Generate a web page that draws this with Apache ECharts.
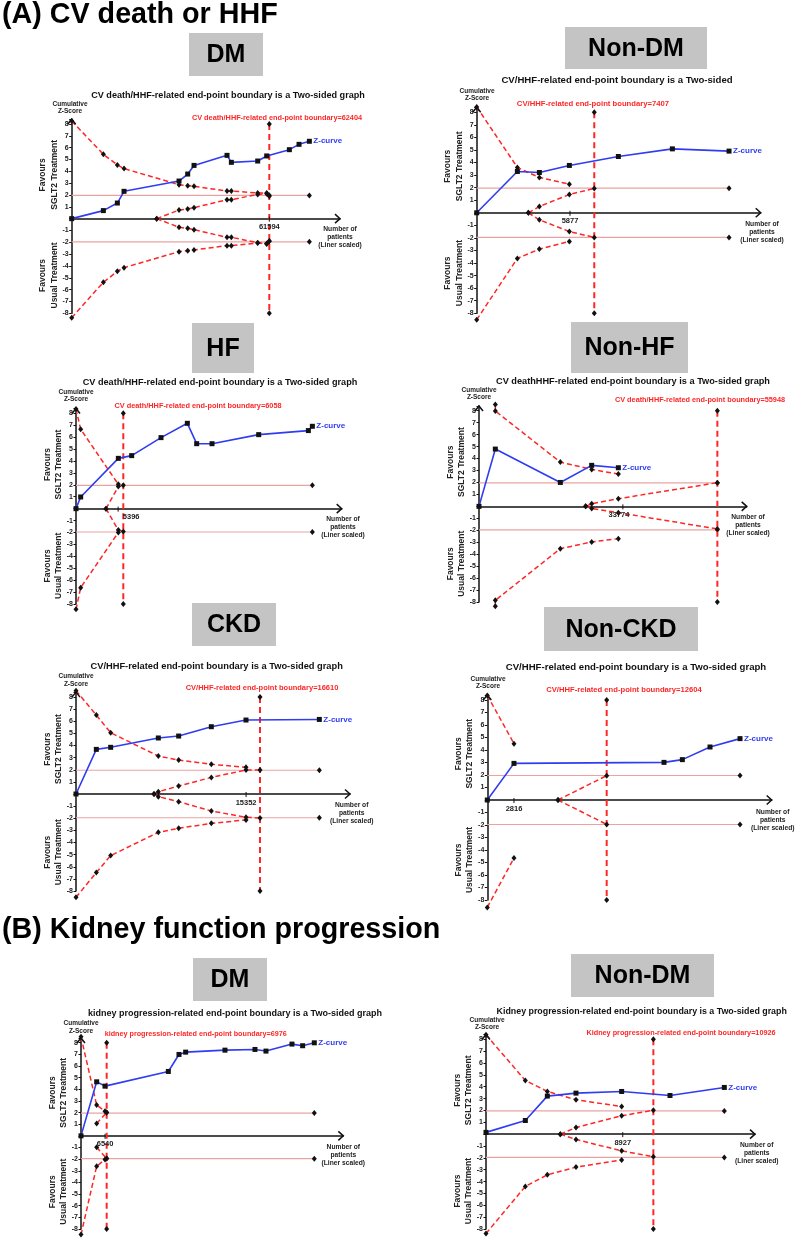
<!DOCTYPE html>
<html>
<head>
<meta charset="utf-8">
<title>Trial sequential analysis</title>
<script src="https://cdn.jsdelivr.net/npm/echarts@6/dist/echarts.min.js"></script>
<style>
html, body { margin: 0; padding: 0; background: #fff; }
#main { width: 797px; height: 1239px; }
</style>
</head>
<body>
<div id="main"></div>
<script>
// values: x = number of patients, y = cumulative Z-score

// (A) CV death or HHF - DM
var a1Z = [[0, 0], [9871, 0.68], [14234, 1.32], [16312, 2.31], [33456, 3.18], [36157, 3.77], [38131, 4.5], [48417, 5.35], [49768, 4.76], [57976, 4.87], [60782, 5.3], [67847, 5.83], [70860, 6.28], [74081, 6.54]];
var a1Up = [[0, 8.25], [9871, 5.44], [14234, 4.54], [16312, 4.23], [33456, 2.87], [36157, 2.79], [38131, 2.73], [48417, 2.34], [49768, 2.34], [57976, 2.17], [60782, 2.17], [61594, 1.9]];
var a1Low = [[0, -8.37], [9871, -5.38], [14234, -4.45], [16312, -4.14], [33456, -2.79], [36157, -2.71], [38131, -2.65], [48417, -2.28], [49768, -2.28], [57976, -2.06], [60782, -2.1], [61594, -1.89]];
var a1InUp = [[26495, 0], [33456, 0.73], [36157, 0.82], [38131, 0.93], [48417, 1.6], [49768, 1.6], [57976, 2.05], [60782, 2.1], [61594, 1.97]];
var a1InLow = [[26495, 0], [33456, -0.73], [36157, -0.82], [38131, -0.93], [48417, -1.58], [49768, -1.58], [57976, -2.03], [60782, -2.14], [61594, -1.9]];
var a1Ris = 61594, a1Tick = 61594, a1HEnd = 74081;

// (A) Non-DM
var a2Z = [[0, 0], [2562, 3.29], [3948, 3.21], [5838, 3.77], [8925, 4.48], [12327, 5.09], [15897, 4.91]];
var a2Up = [[0, 8.43], [2562, 3.61], [3948, 2.81], [5838, 2.28]];
var a2Low = [[0, -8.51], [2562, -3.63], [3948, -2.89], [5838, -2.28]];
var a2InUp = [[3255, 0], [3948, 0.5], [5838, 1.46], [7407, 1.94]];
var a2InLow = [[3255, 0], [3948, -0.56], [5838, -1.49], [7407, -1.96]];
var a2Ris = 7407, a2Tick = 5877, a2HEnd = 15897;

// (A) HF
var a3Z = [[0, 0], [598, 0.98], [5423, 4.22], [7131, 4.45], [10889, 5.96], [14262, 7.16], [15457, 5.45], [17422, 5.45], [23400, 6.21], [29762, 6.55], [30274, 6.91]];
var a3Up = [[0, 8.36], [598, 6.66], [5423, 2.04]];
var a3Low = [[0, -8.45], [598, -6.63], [5423, -2.0]];
var a3InUp = [[3843, 0], [5423, 1.85], [6058, 1.96]];
var a3InLow = [[3843, 0], [5423, -1.8], [6058, -1.92]];
var a3Ris = 6058, a3Tick = 5396, a3HEnd = 30274;

// (A) Non-HF
var a4Z = [[0, 0], [3834, 4.79], [19093, 2.0], [26449, 3.43], [32709, 3.23]];
var a4Up = [[3834, 8.52], [3834, 7.97], [19093, 3.7], [26449, 3.09], [32709, 2.7]];
var a4Low = [[3834, -8.36], [3834, -7.86], [19093, -3.54], [26449, -2.98], [32709, -2.7]];
var a4InUp = [[25040, 0], [26449, 0.22], [32709, 0.64], [55948, 1.98]];
var a4InLow = [[25040, 0], [26449, -0.17], [32709, -0.53], [55948, -1.89]];
var a4Ris = 55948, a4Tick = 33774, a4HEnd = 55948;

// (A) CKD
var a5Z = [[0, 0], [1835, 3.68], [3129, 3.85], [7432, 4.62], [9268, 4.78], [12216, 5.55], [15346, 6.1], [21966, 6.15]];
var a5Up = [[0, 8.52], [1835, 6.51], [3129, 5.05], [7432, 3.13], [9268, 2.8], [12216, 2.45], [15346, 2.2]];
var a5Low = [[0, -8.52], [1835, -6.48], [3129, -5.08], [7432, -3.16], [9268, -2.83], [12216, -2.42], [15346, -2.14]];
var a5InUp = [[7041, 0], [7432, 0.19], [9268, 0.66], [12216, 1.37], [15346, 1.98], [16610, 1.98]];
var a5InLow = [[7041, 0], [7432, -0.22], [9268, -0.63], [12216, -1.4], [15346, -1.92], [16610, -1.98]];
var a5Ris = 16610, a5Tick = 15352, a5HEnd = 21966;

// (A) Non-CKD
var a6Z = [[0, 0], [2816, 2.93], [18656, 3.01], [20592, 3.23], [23514, 4.24], [26682, 4.91]];
var a6Up = [[0, 8.37], [2816, 4.51]];
var a6Low = [[0, -8.59], [2816, -4.64]];
var a6InUp = [[7462, 0], [12604, 1.95]];
var a6InLow = [[7462, 0], [12604, -1.95]];
var a6Ris = 12604, a6Tick = 2816, a6HEnd = 26682;

// (B) Kidney function progression - DM
var b1Z = [[0, 0], [4258, 4.64], [6523, 4.27], [23737, 5.53], [26636, 6.99], [28448, 7.19], [39139, 7.36], [47293, 7.42], [50283, 7.28], [57350, 7.88], [60249, 7.74], [63420, 7.99]];
var b1Up = [[0, 8.51], [4258, 2.64], [6523, 2.12], [6976, 2.0]];
var b1Low = [[0, -8.48], [4258, -2.61], [6523, -2.03], [6976, -1.95]];
var b1InUp = [[4258, 1.06], [6976, 2.0]];
var b1InLow = [[4258, -0.97], [6976, -1.95]];
var b1Ris = 6976, b1Tick = 6540, b1HEnd = 63420;

// (B) Non-DM
var b2Z = [[0, 0.15], [2568, 1.15], [4004, 3.21], [5875, 3.46], [8856, 3.6], [12012, 3.26], [15558, 3.94]];
var b2Up = [[0, 8.38], [2568, 4.53], [4004, 3.6], [5875, 2.9], [8856, 2.33]];
var b2Low = [[0, -8.38], [2568, -4.41], [4004, -3.43], [5875, -2.78], [8856, -2.17]];
var b2InUp = [[4852, 0], [5875, 0.56], [8856, 1.55], [10926, 2.02]];
var b2InLow = [[4852, 0], [5875, -0.45], [8856, -1.41], [10926, -1.91]];
var b2Ris = 10926, b2Tick = 8927, b2HEnd = 15558;

// layout of each small panel (page pixels), ts / rs = font size of title / boundary label
var panels = [
    { z: a1Z, up: a1Up, low: a1Low, inUp: a1InUp, inLow: a1InLow, ris: a1Ris, tick: a1Tick, hEnd: a1HEnd,
      name: 'DM', box: [189, 33, 74, 43],
      title: 'CV death/HHF-related end-point boundary is a Two-sided graph', titleAt: [228, 95], ts: 9.1,
      risLabel: 'CV death/HHF-related end-point boundary=62404', risAt: [277, 118], rs: 7.3,
      ax: 71.7, y8: 124, y8n: 313.3, arrowX: 340, xMax: 83630, cumAt: [70, 104], nopAt: [340, 229] },
    { z: a2Z, up: a2Up, low: a2Low, inUp: a2InUp, inLow: a2InLow, ris: a2Ris, tick: a2Tick, hEnd: a2HEnd,
      name: 'Non-DM', box: [565, 27, 142, 42],
      title: 'CV/HHF-related end-point boundary is a Two-sided', titleAt: [617, 80], ts: 9.6,
      risLabel: 'CV/HHF-related end-point boundary=7407', risAt: [593, 104], rs: 7.7,
      ax: 476.7, y8: 112.3, y8n: 313.3, arrowX: 760.7, xMax: 17892, cumAt: [477, 91], nopAt: [762, 224] },
    { z: a3Z, up: a3Up, low: a3Low, inUp: a3InUp, inLow: a3InLow, ris: a3Ris, tick: a3Tick, hEnd: a3HEnd,
      name: 'HF', box: [192, 323, 62, 50], tickDx: 13,
      title: 'CV death/HHF-related end-point boundary is a Two-sided graph', titleAt: [220, 382], ts: 9.15,
      risLabel: 'CV death/HHF-related end-point boundary=6058', risAt: [198, 405.7], rs: 7.35,
      ax: 76, y8: 413.3, y8n: 604, arrowX: 341.7, xMax: 34032, cumAt: [76, 392], nopAt: [343, 519] },
    { z: a4Z, up: a4Up, low: a4Low, inUp: a4InUp, inLow: a4InLow, ris: a4Ris, tick: a4Tick, hEnd: a4HEnd,
      name: 'Non-HF', box: [571, 322, 117, 51], tickDx: -4,
      title: 'CV deathHHF-related end-point boundary is a Two-sided graph', titleAt: [633, 381.7], ts: 9.2,
      risLabel: 'CV death/HHF-related end-point boundary=55948', risAt: [700, 400], rs: 7.3,
      ax: 479, y8: 410.7, y8n: 602, arrowX: 746.7, xMax: 62835, cumAt: [479, 390], nopAt: [748, 516.7] },
    { z: a5Z, up: a5Up, low: a5Low, inUp: a5InUp, inLow: a5InLow, ris: a5Ris, tick: a5Tick, hEnd: a5HEnd,
      name: 'CKD', box: [192, 603, 84, 43],
      title: 'CV/HHF-related end-point boundary is a Two-sided graph', titleAt: [216.7, 666.7], ts: 9.3,
      risLabel: 'CV/HHF-related end-point boundary=16610', risAt: [262, 688.3], rs: 7.5,
      ax: 76, y8: 697, y8n: 891, arrowX: 350, xMax: 24734, cumAt: [76, 676.7], nopAt: [351.7, 805] },
    { z: a6Z, up: a6Up, low: a6Low, inUp: a6InUp, inLow: a6InLow, ris: a6Ris, tick: a6Tick, hEnd: a6HEnd,
      name: 'Non-CKD', box: [544, 607, 154, 44],
      title: 'CV/HHF-related end-point boundary is a Two-sided graph', titleAt: [636, 667.3], ts: 9.6,
      risLabel: 'CV/HHF-related end-point boundary=12604', risAt: [624, 690], rs: 7.65,
      ax: 487.3, y8: 700, y8n: 900, arrowX: 771.7, xMax: 30026, cumAt: [488, 679], nopAt: [772.7, 811.7] },
    { z: b1Z, up: b1Up, low: b1Low, inUp: b1InUp, inLow: b1InLow, ris: b1Ris, tick: b1Tick, hEnd: b1HEnd,
      name: 'DM', box: [193, 958, 74, 43],
      title: 'kidney progression-related end-point boundary is a Two-sided graph', titleAt: [235, 1014], ts: 9.0,
      risLabel: 'kidney progression-related end-point boundary=6976', risAt: [195.7, 1034.3], rs: 7.2,
      ax: 81, y8: 1042.7, y8n: 1229, arrowX: 343.3, xMax: 71302, cumAt: [81, 1023.7], nopAt: [343.3, 1146.7] },
    { z: b2Z, up: b2Up, low: b2Low, inUp: b2InUp, inLow: b2InLow, ris: b2Ris, tick: b2Tick, hEnd: b2HEnd,
      name: 'Non-DM', box: [571, 954, 143, 43],
      title: 'Kidney progression-related end-point boundary is a Two-sided graph', titleAt: [641.7, 1011.7], ts: 8.85,
      risLabel: 'Kidney progression-related end-point boundary=10926', risAt: [681, 1032.7], rs: 7.27,
      ax: 486, y8: 1039.3, y8n: 1229, arrowX: 755, xMax: 17561, cumAt: [487, 1020], nopAt: [756.7, 1145] }
];

var FONT = '"Liberation Sans", Arial, sans-serif';
var RED = '#ff2626', BLUE = '#2f3cf2', PINK = '#e9a3a3', INK = '#111';

var grids = [], xAxes = [], yAxes = [], series = [], graphics = [];

function txt(x, y, s, size, color, align, vAlign, extra, lh) {
    var el = { type: 'text', x: x, y: y, silent: true, z: 10,
        style: { text: s, fontSize: size, fontWeight: 'bold', fontFamily: FONT, fill: color,
                 align: align || 'center', verticalAlign: vAlign || 'middle', lineHeight: lh || size * 1.2 } };
    if (extra) {
        for (var k in extra) el[k] = extra[k];
    }
    return el;
}

function dashed(data, gi, w, dash) {
    return { type: 'line', xAxisIndex: gi, yAxisIndex: gi, data: data, clip: false,
        symbol: 'diamond', symbolSize: [5, 6], itemStyle: { color: INK },
        lineStyle: { color: RED, width: w || 1.5, type: dash || [5, 3] },
        silent: true, animation: false, z: 3 };
}

function hline(level, end, gi) {
    return { type: 'line', xAxisIndex: gi, yAxisIndex: gi, clip: false,
        data: [{ value: [0, level], symbol: 'none' }, [end, level]],
        symbol: 'diamond', symbolSize: [5, 6], itemStyle: { color: INK },
        lineStyle: { color: PINK, width: 1.2 }, silent: true, animation: false, z: 2 };
}

// section headings
graphics.push(txt(2, 15.5, '(A) CV death or HHF', 28.7, '#000', 'left'));
graphics.push(txt(2, 930, '(B) Kidney function progression', 28.7, '#000', 'left'));

panels.forEach(function (p, i) {
    var unit = (p.y8n - p.y8) / 16;
    var top = p.y8 - 0.4 * unit;
    var y0 = p.y8 + 8 * unit;
    var tx = p.ax + p.tick / p.xMax * (p.arrowX - p.ax);

    grids.push({ left: p.ax, top: top, width: p.arrowX - p.ax, height: p.y8n - top });
    xAxes.push({
        gridIndex: i, type: 'value', min: 0, max: p.xMax,
        axisLine: { onZero: true, lineStyle: { color: INK, width: 1.5 } },
        splitLine: { show: false },
        axisTick: { show: false },
        axisLabel: { show: false }
    });
    yAxes.push({
        gridIndex: i, type: 'value', min: -8, max: 8.4, interval: 1,
        axisLine: { show: true, lineStyle: { color: INK, width: 1.5 } },
        splitLine: { show: false },
        axisTick: { show: true, length: 2.5, lineStyle: { color: INK } },
        axisLabel: { fontSize: 7, fontWeight: 'bold', fontFamily: FONT, color: '#222', margin: 3,
            formatter: function (v) { return (v === 0 || v % 1 !== 0) ? '' : String(v); } }
    });

    series.push(hline(1.96, p.hEnd, i));
    series.push(hline(-1.96, p.hEnd, i));
    series.push(dashed([[p.ris, 8], [p.ris, -8]], i, 2, [6, 4]));
    series.push(dashed(p.up, i));
    series.push(dashed(p.low, i));
    series.push(dashed(p.inUp, i));
    series.push(dashed(p.inLow, i));
    series.push({
        type: 'line', xAxisIndex: i, yAxisIndex: i, data: p.z, clip: false,
        symbol: 'rect', symbolSize: 5, itemStyle: { color: INK },
        lineStyle: { color: BLUE, width: 1.6 },
        endLabel: { show: true, formatter: 'Z-curve', color: BLUE, fontSize: 8, fontWeight: 'bold', fontFamily: FONT, distance: 4 },
        silent: true, animation: false, z: 4
    });

    // grey heading box
    graphics.push({ type: 'rect', silent: true, shape: { x: p.box[0], y: p.box[1], width: p.box[2], height: p.box[3] },
        style: { fill: '#c4c4c4' } });
    graphics.push(txt(p.box[0] + p.box[2] / 2, p.box[1] + p.box[3] / 2 + 1, p.name, 25, '#000'));

    graphics.push(txt(p.titleAt[0], p.titleAt[1], p.title, p.ts, '#111'));
    graphics.push(txt(p.risAt[0], p.risAt[1], p.risLabel, p.rs, RED));
    graphics.push(txt(p.cumAt[0], p.cumAt[1] - 4, 'Cumulative\nZ-Score', 6.5, '#222', 'center', 'top'));
    graphics.push(txt(p.nopAt[0], p.nopAt[1] - 4, 'Number of\npatients\n(Liner scaled)', 6.7, '#222', 'center', 'top', null, 8));

    graphics.push(txt(p.ax - 23, y0 - 3.7 * unit, 'Favours\nSGLT2 Treatment', 8.5, '#222', 'center', 'middle', { rotation: Math.PI / 2 }, 11.5));
    graphics.push(txt(p.ax - 23, y0 + 4.8 * unit, 'Favours\nUsual Treatment', 8.5, '#222', 'center', 'middle', { rotation: Math.PI / 2 }, 11.5));

    // single labelled tick on the patient axis
    graphics.push({ type: 'line', silent: true, z: 5, shape: { x1: tx, y1: y0 - 2, x2: tx, y2: y0 + 3 },
        style: { stroke: INK, lineWidth: 1 } });
    graphics.push(txt(tx + (p.tickDx || 0), y0 + 4, String(p.tick), 7.5, '#222', 'center', 'top'));

    // open arrow heads on the axes
    graphics.push({ type: 'polyline', silent: true, z: 5,
        shape: { points: [[p.arrowX - 5, y0 - 4.5], [p.arrowX, y0], [p.arrowX - 5, y0 + 4.5]] },
        style: { stroke: INK, lineWidth: 1.5, fill: null } });
    graphics.push({ type: 'polyline', silent: true, z: 5,
        shape: { points: [[p.ax - 4, top + 5], [p.ax, top], [p.ax + 4, top + 5]] },
        style: { stroke: INK, lineWidth: 1.5, fill: null } });
});

var chart = echarts.init(document.getElementById('main'));
chart.setOption({
    backgroundColor: '#fff',
    animation: false,
    grid: grids,
    xAxis: xAxes,
    yAxis: yAxes,
    series: series,
    graphic: graphics
});
</script>
</body>
</html>
